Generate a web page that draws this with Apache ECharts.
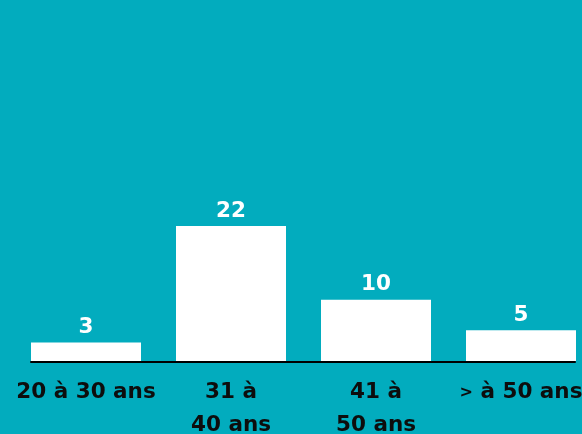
<!DOCTYPE html>
<html>
<head>
<meta charset="utf-8">
<script src="https://cdn.jsdelivr.net/npm/echarts@6/dist/echarts.min.js"></script>
<style>
html,body{margin:0;padding:0;background:#02ACBE;}
#chart{width:582px;height:434px;}
</style>
</head>
<body>
<div id="chart"></div>
<script>
const categories = ['20 à 30 ans', '31 à\n40 ans', '41 à\n50 ans', '> à 50 ans'];
const values = [3, 22, 10, 5];

const chart = echarts.init(document.getElementById('chart'));
chart.setOption({
  backgroundColor: '#02ACBE',
  animation: false,
  grid: [
    {left: 13.5, right: -11.5, top: 177, bottom: 73, containLabel: false, outerBoundsMode: 'none'},
    {left: 31, right: 7, top: 175, bottom: 72, containLabel: false, outerBoundsMode: 'none'}
  ],
  xAxis: [
    {
      type: 'category', gridIndex: 0, data: categories,
      axisLine: {show: false}, axisTick: {show: false},
      axisLabel: {
        interval: 0, margin: 15, color: '#0d0d0d',
        fontFamily: 'DejaVu Sans', fontWeight: 'bold', fontSize: 21.5,
        lineHeight: 33,
        formatter: function (v) { return v.replace('>', '{s|>}'); },
        rich: {
          s: {fontFamily: 'DejaVu Sans', fontWeight: 'bold', fontSize: 16, color: '#0d0d0d', lineHeight: 33}
        }
      }
    },
    {
      type: 'value', gridIndex: 1, min: 0, max: 1,
      axisLine: {show: true, lineStyle: {color: '#000000', width: 2}},
      axisTick: {show: false}, axisLabel: {show: false}, splitLine: {show: false}
    }
  ],
  yAxis: [
    {type: 'value', gridIndex: 0, min: 0, max: 30, show: false},
    {type: 'value', gridIndex: 1, min: 0, max: 1, show: false}
  ],
  series: [{
    type: 'bar', xAxisIndex: 0, yAxisIndex: 0,
    data: values, barWidth: 110,
    itemStyle: {color: '#ffffff'},
    label: {
      show: true, position: 'top', distance: 4,
      color: '#ffffff', fontFamily: 'DejaVu Sans', fontWeight: 'bold', fontSize: 21.5
    }
  }]
});
</script>
</body>
</html>
